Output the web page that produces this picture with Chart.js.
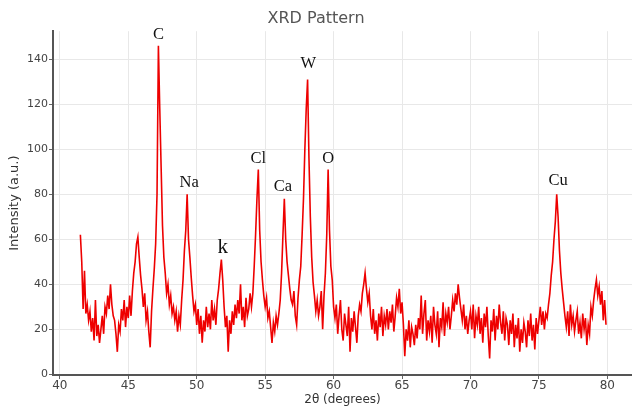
<!DOCTYPE html>
<html>
<head>
  <meta charset="UTF-8">
  <title>XRD Pattern</title>
  <script src="https://cdn.jsdelivr.net/npm/chart.js"></script>
  <style>
    html, body { margin: 0; padding: 0; background: #fff; }
    #wrap { width: 632px; height: 409px; }
  </style>
</head>
<body>
  <div id="wrap"><canvas id="xrd"></canvas></div>

  <script>
    // scan settings (2theta of first sample and step of the scan)
    var scanStart = 41.5;
    var scanStep = 0.1;

    // intensity, one row per degree
    var intensity = [
      62, 50, 29, 46, 27,                         // 41.5 - 41.9
      31, 24, 28, 19, 25, 15, 33, 17, 22, 14,     // 42
      20, 26, 18, 30, 27, 35, 29, 40, 31, 26,     // 43
      24, 18, 10, 22, 19, 29, 24, 33, 21, 30,     // 44
      25, 35, 26, 37, 45, 50, 58, 61, 52, 44,     // 45
      38, 30, 36, 24, 28, 19, 12, 28, 38, 47,     // 46
      58, 80, 146, 118, 92, 66, 52, 45, 36, 40,   // 47
      31, 35, 27, 30, 24, 28, 19, 26, 22, 33,     // 48
      42, 55, 64, 80, 60, 52, 43, 35, 28, 31,     // 49
      22, 29, 18, 26, 14, 24, 19, 30, 21, 27,     // 50
      20, 33, 24, 29, 22, 33, 38, 45, 51, 42,     // 51
      30, 21, 26, 10, 24, 18, 28, 22, 31, 25,     // 52
      33, 27, 40, 24, 30, 21, 34, 26, 29, 36,     // 53
      30, 36, 48, 62, 78, 91, 64, 50, 42, 35,     // 54
      30, 34, 25, 28, 21, 14, 23, 19, 26, 22,     // 55
      27, 33, 45, 62, 78, 60, 50, 44, 38, 33,     // 56
      31, 37, 26, 22, 34, 42, 48, 62, 78, 100,    // 57
      118, 131, 96, 70, 52, 41, 35, 28, 33, 26,   // 58
      30, 37, 20, 35, 45, 62, 91, 64, 48, 42,     // 59
      30, 25, 31, 18, 26, 33, 20, 15, 27, 22,     // 60
      17, 30, 10, 25, 19, 28, 21, 14, 26, 31,     // 61
      28, 36, 40, 45, 38, 32, 36, 26, 20, 29,     // 62
      18, 24, 15, 27, 21, 30, 17, 26, 22, 29,     // 63
      20, 28, 23, 31, 19, 26, 34, 30, 38, 27,     // 64
      32, 22, 8, 20, 15, 24, 12, 21, 18, 13,      // 65
      22, 16, 25, 20, 35, 18, 27, 33, 15, 24,     // 66
      19, 26, 14, 30, 22, 18, 28, 12, 25, 21,     // 67
      32, 17, 27, 23, 30, 20, 26, 33, 28, 36,     // 68
      31, 40, 34, 29, 24, 31, 20, 26, 18, 24,     // 69
      28, 20, 31, 16, 26, 22, 30, 18, 25, 14,     // 70
      27, 21, 30, 17, 7, 24, 19, 29, 15, 26,      // 71
      20, 31, 23, 18, 28, 15, 25, 22, 13, 24,     // 72
      18, 27, 12, 22, 16, 25, 10, 20, 14, 23,     // 73
      19, 12, 24, 17, 27, 15, 22, 11, 25, 18,     // 74
      24, 30, 22, 28, 20, 27, 25, 31, 36, 44,     // 75
      50, 60, 68, 80, 70, 55, 45, 38, 32, 26,     // 76
      21, 28, 17, 31, 22, 26, 19, 24, 28, 18,     // 77
      23, 16, 27, 20, 25, 13, 22, 18, 30, 26,     // 78
      33, 38, 42, 35, 39, 31, 37, 24, 33, 22      // 79
    ];

    // peak labels
    var peakNames = ["C", "Na", "k", "Cl", "Ca", "W", "O", "Cu"];
    var peakAngles = [47.2, 49.45, 51.9, 54.5, 56.3, 58.15, 59.6, 76.4];
    var peakLabelY = [151, 85, 56.5, 96, 83.5, 138, 96, 86];

    var xTicks = [40, 45, 50, 55, 60, 65, 70, 75, 80];
    var yTicks = [0, 20, 40, 60, 80, 100, 120, 140];

    var points = intensity.map(function (v, i) {
      return { x: +(scanStart + i * scanStep).toFixed(2), y: v };
    });

    // draws the element names above the peaks
    var peakLabels = {
      id: "peakLabels",
      afterDatasetsDraw: function (chart) {
        var ctx = chart.ctx;
        var xs = chart.scales.x, ys = chart.scales.y;
        ctx.save();
        ctx.fillStyle = "#111";
        ctx.textAlign = "center";
        ctx.textBaseline = "middle";
        for (var i = 0; i < peakNames.length; i++) {
          var size = peakNames[i] === "k" ? 21 : 16.5;
          ctx.font = size + "px 'Liberation Serif', 'DejaVu Serif', serif";
          ctx.fillText(peakNames[i], xs.getPixelForValue(peakAngles[i]), ys.getPixelForValue(peakLabelY[i]));
        }
        ctx.restore();
      }
    };

    var ctx = document.getElementById("xrd").getContext("2d");
    var chart = new Chart(ctx, {
      type: "line",
      data: {
        datasets: [{
          data: points,
          borderColor: "#ee0000",
          borderWidth: 1.6,
          pointRadius: 0,
          tension: 0,
          fill: false
        }]
      },
      options: {
        responsive: true,
        maintainAspectRatio: false,
        animation: false,
        layout: { padding: 0 },
        plugins: {
          legend: { display: false },
          tooltip: { enabled: false },
          title: {
            display: true,
            text: "XRD Pattern",
            color: "#555",
            font: { family: "'DejaVu Sans', sans-serif", size: 16, weight: "normal" },
            padding: { top: 9, bottom: 3 }
          }
        },
        scales: {
          x: {
            type: "linear",
            min: 39.5,
            max: 81.8,
            afterBuildTicks: function (scale) {
              scale.ticks = xTicks.map(function (v) { return { value: v }; });
            },
            afterFit: function (scale) { scale.height = 34; },
            border: { color: "#555", width: 2 },
            grid: { color: "#e8e8e8", tickColor: "#666", tickLength: 4 },
            ticks: {
              color: "#444",
              padding: 0,
              maxRotation: 0,
              font: { family: "'DejaVu Sans', sans-serif", size: 12 }
            },
            title: {
              display: true,
              text: "2θ (degrees)",
              color: "#333",
              padding: { top: 0, bottom: 2 },
              font: { family: "'DejaVu Sans', sans-serif", size: 12 }
            }
          },
          y: {
            min: -0.3,
            max: 152.5,
            afterBuildTicks: function (scale) {
              scale.ticks = yTicks.map(function (v) { return { value: v }; });
            },
            afterFit: function (scale) { scale.width = 53; },
            border: { color: "#555", width: 2 },
            grid: { color: "#e8e8e8", tickColor: "#666", tickLength: 4 },
            ticks: {
              color: "#444",
              padding: 1,
              font: { family: "'DejaVu Sans', sans-serif", size: 11 }
            },
            title: {
              display: true,
              text: "Intensity (a.u.)",
              color: "#333",
              padding: { top: 7, bottom: 0 },
              font: { family: "'DejaVu Sans', sans-serif", size: 13 }
            }
          }
        }
      },
      plugins: [peakLabels]
    });
  </script>
</body>
</html>
